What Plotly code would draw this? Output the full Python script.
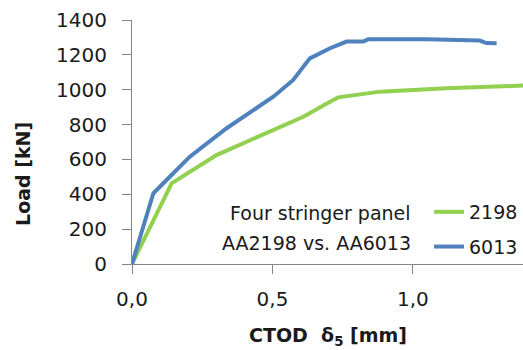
import plotly.graph_objects as go

# CTOD (mm) vs Load (kN)
ctod_6013 = [0.0, 0.076, 0.123, 0.206, 0.337, 0.503, 0.574, 0.633, 0.705, 0.764, 0.823, 0.841, 1.049, 1.238, 1.262, 1.298]
load_6013 = [0, 406, 482, 616, 779, 960, 1056, 1180, 1238, 1276, 1276, 1289, 1289, 1282, 1268, 1266]

ctod_2198 = [0.0, 0.141, 0.301, 0.503, 0.610, 0.705, 0.734, 0.883, 1.12, 1.40]
load_2198 = [0, 463, 625, 769, 845, 931, 956, 989, 1008, 1024]

GREEN = "#92D050"
BLUE = "#4F81BD"
FONT = "DejaVu Sans"
TXT = "#1a1a1a"

fig = go.Figure()
fig.add_trace(go.Scatter(x=ctod_2198, y=load_2198, mode="lines", name="2198", legendgroup="a",
                         line=dict(color=GREEN, width=4)))
fig.add_trace(go.Scatter(x=ctod_6013, y=load_6013, mode="lines", name="6013", legendgroup="b",
                         line=dict(color=BLUE, width=4)))

fig.update_layout(
    width=523, height=350,
    margin=dict(l=132, r=0, t=20, b=86),
    plot_bgcolor="white", paper_bgcolor="white",
    separators=",.",
    font=dict(family=FONT, size=19, color=TXT),
    showlegend=True,
    legend=dict(x=0.760, y=0.291, xanchor="left", yanchor="top",
                bgcolor="rgba(0,0,0,0)", font=dict(size=19),
                tracegroupgap=7, itemwidth=30),
)
fig.update_xaxes(range=[0, 1.392], tickvals=[0, 0.5, 1.0], tickformat=".1f",
                 showgrid=False, zeroline=False, showline=True, linecolor="#868686", linewidth=1,
                 ticks="outside", ticklen=9, tickcolor="#868686", ticklabelstandoff=8,
                 tickfont=dict(size=20))
fig.update_yaxes(range=[0, 1400], dtick=200,
                 showgrid=False, zeroline=False, showline=True, linecolor="#868686", linewidth=1,
                 ticks="outside", ticklen=9, tickcolor="#868686", ticklabelstandoff=11,
                 tickfont=dict(size=20))

fig.add_annotation(x=0.5, y=-0.297, xref="paper", yref="paper", xanchor="center", yanchor="middle",
                   text="<b>CTOD  δ<sub>5</sub> [mm]</b>", showarrow=False, font=dict(size=19))
fig.add_annotation(x=-0.2788, y=0.369, xref="paper", yref="paper", xanchor="center", yanchor="middle",
                   text="<b>Load [kN]</b>", textangle=-90, showarrow=False, font=dict(size=19))
fig.add_annotation(x=0.7187, y=0.209, xref="paper", yref="paper", xanchor="right", yanchor="middle",
                   text="Four stringer panel", showarrow=False, font=dict(size=19))
fig.add_annotation(x=0.7187, y=0.086, xref="paper", yref="paper", xanchor="right", yanchor="middle",
                   text="AA2198 vs. AA6013", showarrow=False, font=dict(size=19))

fig.write_html("out.html")
